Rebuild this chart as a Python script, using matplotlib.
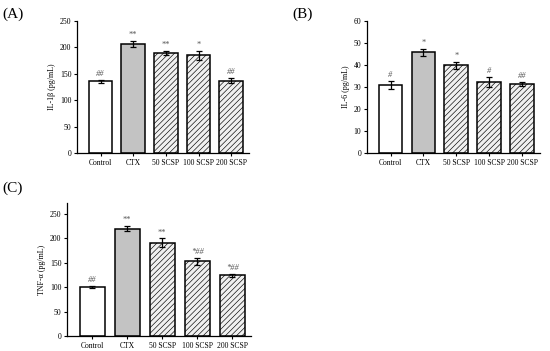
import numpy as np
import matplotlib.pyplot as plt

plt.rcParams['font.family'] = ['Liberation Serif', 'DejaVu Serif']
plt.rcParams['hatch.linewidth'] = 0.45
plt.rcParams['hatch.color'] = '#b8b8b8'

groupes = ['Control', 'CTX', '50 SCSP', '100 SCSP', '200 SCSP']

il1b = [136, 207, 189, 185, 137]
il1b_err = [3, 6, 4, 8, 5]
il1b_sig = ['##', '**', '**', '*', '##']

il6 = [30.8, 45.8, 39.8, 32.4, 31.4]
il6_err = [1.8, 1.6, 1.7, 2.2, 0.9]
il6_sig = ['#', '*', '*', '#', '##']

tnfa = [100, 220, 191, 153, 124]
tnfa_err = [2, 5, 9, 7, 3]
tnfa_sig = ['##', '**', '**', '*##', '*##']

couleurs = ['white', '#c3c3c3', '#f0f0f0', '#f0f0f0', '#f0f0f0']
hachures = [None, None, '//////', '//////', '//////']


def graphique(ax, valeurs, erreurs, sig, ylabel, ymax, ypas, ytop, decal):
    x = np.arange(len(groupes))
    barres = ax.bar(x, valeurs, width=0.72, color=couleurs, edgecolor='black',
                    linewidth=1.1, zorder=2)
    for b, h in zip(barres, hachures):
        if h:
            b.set_hatch(h)
    ax.errorbar(x, valeurs, yerr=erreurs, fmt='none', ecolor='black',
                elinewidth=0.9, capsize=2, capthick=0.9, zorder=3)
    for xi, v, e, s in zip(x, valeurs, erreurs, sig):
        ax.text(xi, v + e + decal, s, ha='center', va='bottom', fontsize=6,
                color='#555555', style='italic' if '#' in s else 'normal')
    ax.set_xlim(-0.72, 4.55)
    ax.set_ylim(0, ytop)
    ax.set_yticks(np.arange(0, ymax + 1, ypas))
    ax.set_xticks(x)
    ax.set_xticklabels(groupes, fontsize=5.5)
    ax.tick_params(axis='y', labelsize=5.6, length=2.5, width=0.8, pad=1.5)
    ax.tick_params(axis='x', length=2.5, width=0.8, pad=2)
    ax.set_ylabel(ylabel, fontsize=5.8, labelpad=3)
    ax.spines['top'].set_visible(False)
    ax.spines['right'].set_visible(False)
    ax.spines['left'].set_linewidth(0.9)
    ax.spines['bottom'].set_linewidth(0.9)


fig = plt.figure(figsize=(5.5, 3.51), dpi=100)

axA = fig.add_axes([0.140, 0.564, 0.313, 0.376])
graphique(axA, il1b, il1b_err, il1b_sig, 'IL-1β (pg/mL)', 250, 50, 250, 4)

axB = fig.add_axes([0.667, 0.564, 0.315, 0.376])
graphique(axB, il6, il6_err, il6_sig, 'IL-6 (pg/mL)', 60, 10, 60, 1)

axC = fig.add_axes([0.122, 0.043, 0.335, 0.378])
graphique(axC, tnfa, tnfa_err, tnfa_sig, 'TNF-α (pg/mL)', 250, 50, 272, 4)

fig.text(0.005, 0.96, '(A)', fontsize=11, va='center', ha='left')
fig.text(0.532, 0.96, '(B)', fontsize=11, va='center', ha='left')
fig.text(0.005, 0.465, '(C)', fontsize=11, va='center', ha='left')

fig.savefig('out.png', dpi=100)
